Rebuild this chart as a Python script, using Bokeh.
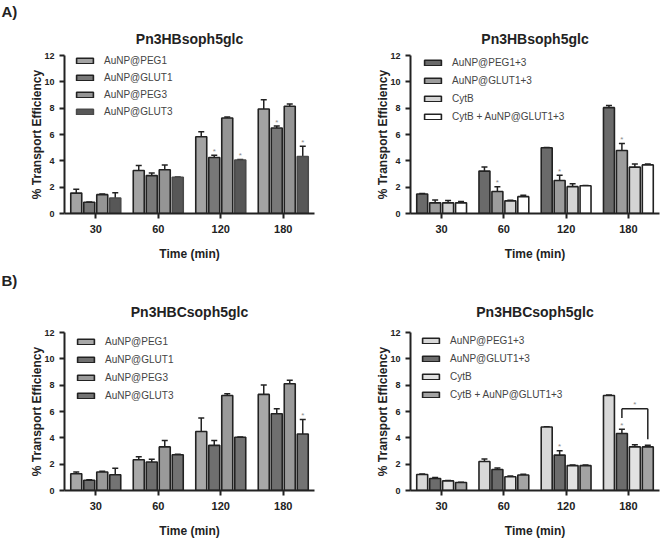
from bokeh.plotting import figure
from bokeh.models import (ColumnDataSource, Whisker, TeeHead, Title, Legend, LegendItem,
                          Range1d, FixedTicker)
from bokeh.layouts import column, row
from bokeh.embed import file_html
from bokeh.resources import INLINE
from bokeh.core.properties import value

times = ["30", "60", "120", "180"]
group_pos = [1, 2, 3, 4]
y_ticks = [0, 2, 4, 6, 8, 10, 12]

# ---------- Panel A (left): Pn3HBsoph5glc ----------
a1_title = "Pn3HBsoph5glc"
a1_names = ["AuNP@PEG1", "AuNP@GLUT1", "AuNP@PEG3", "AuNP@GLUT3"]
a1_peg1 = [1.55, 3.27, 5.83, 7.94]
a1_peg1_err = [0.30, 0.37, 0.37, 0.69]
a1_glut1 = [0.86, 2.88, 4.25, 6.49]
a1_glut1_err = [0.02, 0.20, 0.18, 0.15]
a1_peg3 = [1.43, 3.32, 7.25, 8.14]
a1_peg3_err = [0.05, 0.37, 0.08, 0.17]
a1_glut3 = [1.18, 2.75, 4.06, 4.33]
a1_glut3_err = [0.40, 0.03, 0.05, 0.78]
a1_stars = [[0, 0, 0, 0], [0, 0, 1, 1], [0, 0, 0, 0], [0, 0, 1, 1]]

# ---------- Panel A (right) ----------
a2_title = "Pn3HBsoph5glc"
a2_names = ["AuNP@PEG1+3", "AuNP@GLUT1+3", "CytB", "CytB + AuNP@GLUT1+3"]
a2_peg13 = [1.48, 3.22, 4.99, 8.04]
a2_peg13_err = [0.03, 0.32, 0.03, 0.17]
a2_glut13 = [0.81, 1.67, 2.51, 4.79]
a2_glut13_err = [0.22, 0.37, 0.39, 0.52]
a2_cytb = [0.81, 0.96, 2.04, 3.52]
a2_cytb_err = [0.17, 0.05, 0.22, 0.24]
a2_cytb_glut = [0.81, 1.28, 2.11, 3.69]
a2_cytb_glut_err = [0.10, 0.10, 0.02, 0.07]
a2_stars = [[0, 0, 0, 0], [0, 1, 1, 1], [0, 0, 0, 0], [0, 0, 0, 0]]

# ---------- Panel B (left): Pn3HBCsoph5glc ----------
b1_title = "Pn3HBCsoph5glc"
b1_names = ["AuNP@PEG1", "AuNP@GLUT1", "AuNP@PEG3", "AuNP@GLUT3"]
b1_peg1 = [1.27, 2.33, 4.48, 7.30]
b1_peg1_err = [0.13, 0.24, 1.03, 0.71]
b1_glut1 = [0.78, 2.16, 3.43, 5.83]
b1_glut1_err = [0.03, 0.22, 0.37, 0.37]
b1_peg3 = [1.40, 3.31, 7.22, 8.11]
b1_peg3_err = [0.07, 0.49, 0.13, 0.27]
b1_glut3 = [1.20, 2.72, 4.04, 4.29]
b1_glut3_err = [0.49, 0.03, 0.03, 1.10]
b1_stars = [[0, 0, 0, 0], [0, 0, 0, 0], [0, 0, 0, 0], [0, 0, 0, 1]]

# ---------- Panel B (right) ----------
b2_title = "Pn3HBCsoph5glc"
b2_names = ["AuNP@PEG1+3", "AuNP@GLUT1+3", "CytB", "CytB + AuNP@GLUT1+3"]
b2_peg13 = [1.22, 2.20, 4.82, 7.22]
b2_peg13_err = [0.03, 0.20, 0.03, 0.03]
b2_glut13 = [0.91, 1.59, 2.69, 4.33]
b2_glut13_err = [0.07, 0.12, 0.32, 0.32]
b2_cytb = [0.73, 1.05, 1.89, 3.31]
b2_cytb_err = [0.03, 0.05, 0.05, 0.17]
b2_cytb_glut = [0.61, 1.18, 1.89, 3.31]
b2_cytb_glut_err = [0.02, 0.05, 0.05, 0.12]
b2_stars = [[0, 0, 0, 0], [0, 0, 1, 1], [0, 0, 0, 0], [0, 0, 0, 0]]
# significance bracket (4th group, between series 2 and 4)
b2_bracket_group = 4
b2_bracket_y = 6.2
b2_bracket_left_low = 5.5
b2_bracket_right_low = 3.9

FONT = "Liberation Sans"
OFFSETS = [-0.312, -0.104, 0.104, 0.312]
BAR_W = 0.176


def make_panel(title, letter, names, vals, errs, stars, fills, lines,
               width, height, mb_left, mb_right, mb_top, mb_bottom,
               legend_loc, legend_spacing, title_standoff, letter_standoff):
    p = figure(width=width, height=height, x_range=Range1d(0.5, 4.5),
               y_range=Range1d(0, 12), output_backend="svg", toolbar_location=None,
               min_border_left=mb_left, min_border_right=mb_right,
               min_border_top=mb_top, min_border_bottom=mb_bottom)
    p.outline_line_color = None
    p.grid.visible = False
    p.background_fill_color = "white"
    p.border_fill_color = "white"

    items = []
    for i in range(4):
        off = OFFSETS[i]
        v = vals[i]
        e = errs[i]
        xs = [g + off for g in group_pos]
        src = ColumnDataSource(dict(x=xs, top=v, upper=[a + b for a, b in zip(v, e)]))
        r = p.vbar(x="x", top="top", width=BAR_W, source=src,
                   fill_color=fills[i], line_color=lines[i], line_width=1.6)
        items.append(LegendItem(label=names[i], renderers=[r]))
        w = Whisker(source=src, base="x", upper="upper", lower="top",
                    dimension="height", line_color="#222222", line_width=1.5,
                    lower_head=None,
                    upper_head=TeeHead(size=6, line_color="#222222", line_width=1.5))
        p.add_layout(w)
        st_x = [x for x, f in zip(xs, stars[i]) if f]
        st_y = [a + b + 0.3 for a, b, f in zip(v, e, stars[i]) if f]
        if st_x:
            ssrc = ColumnDataSource(dict(x=st_x, y=st_y, s=["*"] * len(st_x)))
            p.text(x="x", y="y", text="s", source=ssrc,
                   text_align="center", text_baseline="middle", text_font_size="8px",
                   text_color="#8a8a8a", text_font=value(FONT))

    legend = Legend(items=items, location=legend_loc)
    legend.background_fill_alpha = 0
    legend.border_line_alpha = 0
    legend.glyph_width = 21
    legend.glyph_height = 7
    legend.label_height = 7
    legend.label_standoff = 9
    legend.label_text_font = FONT
    legend.label_text_font_size = "10px"
    legend.label_text_color = "#444444"
    legend.padding = 0
    legend.spacing = legend_spacing
    legend.margin = 0
    p.add_layout(legend)

    # axes
    p.yaxis.ticker = FixedTicker(ticks=y_ticks)
    p.xaxis.ticker = FixedTicker(ticks=group_pos)
    p.xaxis.major_label_overrides = {g: t for g, t in zip(group_pos, times)}
    for ax in (p.xaxis[0], p.yaxis[0]):
        ax.axis_line_width = 2
        ax.axis_line_color = "#222222"
        ax.major_tick_line_width = 2
        ax.major_tick_line_color = "#222222"
        ax.major_tick_out = 5
        ax.major_tick_in = 0
        ax.minor_tick_line_color = None
        ax.major_label_text_font = FONT
        ax.major_label_text_font_style = "bold"
        ax.major_label_text_color = "#222222"
        ax.axis_label_text_font = FONT
        ax.axis_label_text_font_style = "bold"
        ax.axis_label_text_font_size = "12px"
        ax.axis_label_text_color = "#222222"
    p.yaxis.major_label_text_font_size = "9px"
    p.xaxis.major_label_text_font_size = "11px"
    p.yaxis.axis_label = "% Transport Efficiency"
    p.xaxis.axis_label = "Time (min)"
    p.yaxis.axis_label_standoff = -3
    p.yaxis.major_label_standoff = 5
    p.xaxis.major_label_standoff = 6
    p.xaxis.axis_label_standoff = 11

    t_main = Title(text=title, align="center", text_font=FONT, text_font_style="bold",
                   text_font_size="14px", text_color="#222222", standoff=title_standoff)
    p.add_layout(t_main, "above")
    if letter:
        t_letter = Title(text=letter, align="left", offset=-mb_left + 1, text_font=FONT,
                         text_font_style="bold", text_font_size="15px", text_color="#222222",
                         standoff=letter_standoff)
        p.add_layout(t_letter, "above")
    return p


pa1 = make_panel(a1_title, "A)", a1_names,
                 [a1_peg1, a1_glut1, a1_peg3, a1_glut3],
                 [a1_peg1_err, a1_glut1_err, a1_peg3_err, a1_glut3_err], a1_stars,
                 ["#a3a3a3", "#787878", "#959595", "#575757"],
                 ["#222222", "#222222", "#222222", "#4a4a4a"],
                 330, 265, 64, 16, 51, 52, (10, 96), 6, 18, 0)

pa2 = make_panel(a2_title, None, a2_names,
                 [a2_peg13, a2_glut13, a2_cytb, a2_cytb_glut],
                 [a2_peg13_err, a2_glut13_err, a2_cytb_err, a2_cytb_glut_err], a2_stars,
                 ["#6a6a6a", "#9c9c9c", "#d4d4d4", "#ffffff"],
                 ["#222222"] * 4,
                 330, 265, 80, 1, 51, 52, (12, 91), 7, 18, 0)

pb1 = make_panel(b1_title, "B)", b1_names,
                 [b1_peg1, b1_glut1, b1_peg3, b1_glut3],
                 [b1_peg1_err, b1_glut1_err, b1_peg3_err, b1_glut3_err], b1_stars,
                 ["#a8a8a8", "#6f6f6f", "#9a9a9a", "#737373"],
                 ["#222222"] * 4,
                 330, 275, 64, 16, 67, 45, (11, 89), 7, 26, 0)

pb2 = make_panel(b2_title, None, b2_names,
                 [b2_peg13, b2_glut13, b2_cytb, b2_cytb_glut],
                 [b2_peg13_err, b2_glut13_err, b2_cytb_err, b2_cytb_glut_err], b2_stars,
                 ["#d8d8d8", "#6c6c6c", "#e2e2e2", "#a3a3a3"],
                 ["#222222"] * 4,
                 330, 275, 80, 1, 67, 45, (10, 90), 7, 26, 0)

# significance bracket on panel B right
bx_l = b2_bracket_group + OFFSETS[1]
bx_r = b2_bracket_group + OFFSETS[3]
bx_m = b2_bracket_group + OFFSETS[2]
bsrc = ColumnDataSource(dict(x0=[bx_l, bx_r, bx_l], y0=[b2_bracket_left_low, b2_bracket_right_low,
                                                         b2_bracket_y],
                             x1=[bx_l, bx_r, bx_r], y1=[b2_bracket_y, b2_bracket_y, b2_bracket_y]))
pb2.segment(x0="x0", y0="y0", x1="x1", y1="y1", source=bsrc, line_color="#222222", line_width=1.5)
ssrc = ColumnDataSource(dict(x=[bx_m], y=[b2_bracket_y + 0.35], s=["*"]))
pb2.text(x="x", y="y", text="s", source=ssrc,
         text_align="center", text_baseline="middle", text_font_size="8px",
         text_color="#8a8a8a", text_font=value(FONT))

layout = column(row(pa1, pa2), row(pb1, pb2))
open("out.html", "w").write(file_html(layout, INLINE))
